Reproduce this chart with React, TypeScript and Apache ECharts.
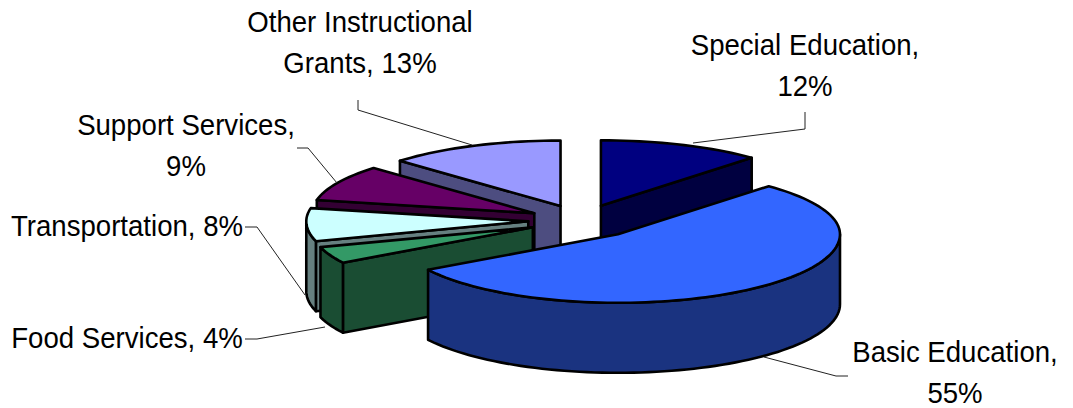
import React, { useEffect, useRef } from "react";
import * as echarts from "echarts";

// Budget shares, clockwise from twelve o'clock
const categories = ["Special Education", "Basic Education", "Food Services", "Transportation", "Support Services", "Other Instructional Grants"];
const shares = [12, 55, 4, 8, 9, 13];
const topColors = ["#000080", "#3366FF", "#339966", "#CCFFFF", "#660066", "#9999FF"];
const wallColors = ["#000040", "#1A3380", "#1A4D33", "#668080", "#330033", "#4D4D80"];
// Back-to-front painting sequence for the tilted pie
const paintOrder = [5, 4, 0, 3, 2, 1];
const explodeBy = [0.24, 0.26, 0.24, 0.24, 0.24, 0.24];

const labelLines = [
  ["Special Education,", "12%"],
  ["Basic Education,", "55%"],
  ["Food Services, 4%"],
  ["Transportation, 8%"],
  ["Support Services,", "9%"],
  ["Other Instructional", "Grants, 13%"],
];

// The near half of the rim is drawn a little deeper than the far half, for perspective
const PIE = { cx: 581.5, cy: 220.5, rx: 222, ryBack: 65.5, ryFront: 68.5, depth: 70, step: 2 };
const FONT = '30px "Liberation Sans", Arial, sans-serif';
const TEXT_SQUEEZE = 0.92;
const LINE_GAP = 41;

const labelPos: [number, number][] = [
  [805, 65.5],
  [955, 372],
  [127, 338],
  [127, 226],
  [186, 145],
  [360, 42.5],
];
const leaders: [number, number][][] = [
  [[805, 112], [805, 129], [693, 143]],
  [[848, 376], [836, 376], [764, 357]],
  [[245, 339], [257, 339], [325, 327]],
  [[245, 227], [257, 227], [305, 295]],
  [[297, 148], [308, 148], [337, 183]],
  [[358, 100], [358, 110], [472, 145]],
];

const total = shares.reduce((a, b) => a + b, 0);
const spans = shares.map((_, i) => {
  const before = shares.slice(0, i).reduce((a, b) => a + b, 0);
  return [(before / total) * 360, ((before + shares[i]) / total) * 360];
});

const rad = (d: number) => (d * Math.PI) / 180;
const depthScale = (c: number) => (c >= 0 ? PIE.ryBack : PIE.ryFront);

function sliceShapes(i: number) {
  const [a0, a1] = spans[i];
  const mid = rad((a0 + a1) / 2);
  const e = explodeBy[i];
  const ax = PIE.cx + e * PIE.rx * Math.sin(mid);
  const ay = PIE.cy - e * depthScale(Math.cos(mid)) * Math.cos(mid);
  const rim = (deg: number): [number, number] => {
    const c = Math.cos(rad(deg));
    return [ax + PIE.rx * Math.sin(rad(deg)), ay - depthScale(c) * c];
  };
  const down = (p: [number, number]): [number, number] => [p[0], p[1] + PIE.depth];
  const arc = (from: number, to: number) => {
    const pts: [number, number][] = [];
    for (let d = from; d < to; d += PIE.step) pts.push(rim(d));
    pts.push(rim(to));
    return pts;
  };
  const apex: [number, number] = [ax, ay];
  const edge = { lineWidth: 2.6, stroke: "#000", lineJoin: "round" as const };
  const poly = (points: [number, number][], fill: string) => ({
    type: "polygon",
    shape: { points },
    style: { fill, ...edge },
  });
  const children: any[] = [];
  // A cut face shows only when it turns towards the viewer
  if (a0 > 180) {
    const t = rim(a0);
    children.push(poly([apex, t, down(t), down(apex)], wallColors[i]));
  }
  if (a1 < 180) {
    const t = rim(a1);
    children.push(poly([apex, t, down(t), down(apex)], wallColors[i]));
  }
  // Only the part of the rim facing the viewer gets an outer wall
  const f0 = Math.max(a0, 90);
  const f1 = Math.min(a1, 270);
  if (f1 > f0) {
    const front = arc(f0, f1);
    children.push(poly([...front, ...front.slice().reverse().map(down)], wallColors[i]));
  }
  children.push(poly([apex, ...arc(a0, a1)], topColors[i]));
  return { type: "group", children };
}

export default function App() {
  const ref = useRef<HTMLDivElement>(null);
  useEffect(() => {
    document.body.style.margin = "0";
    const chart = echarts.init(ref.current!, undefined, { renderer: "svg" });
    chart.setOption({
      animation: false,
      backgroundColor: "#fff",
      series: [
        {
          type: "custom",
          coordinateSystem: "none",
          silent: true,
          data: paintOrder.map((i) => ({ name: categories[i], value: [shares[i], i] })),
          renderItem: (_: unknown, api: any) => sliceShapes(api.value(1)),
        },
      ],
      graphic: [
        ...leaders.map((points) => ({
          type: "polyline",
          silent: true,
          z: 10,
          shape: { points },
          style: { stroke: "#222", lineWidth: 1, fill: "none" },
        })),
        ...labelLines.flatMap((lines, i) =>
          lines.map((text, k) => ({
            type: "text",
            silent: true,
            z: 11,
            x: labelPos[i][0],
            y: labelPos[i][1] + (k - (lines.length - 1) / 2) * LINE_GAP,
            scaleX: TEXT_SQUEEZE,
            style: { text, font: FONT, fill: "#000", align: "center", verticalAlign: "middle" },
          }))
        ),
      ],
    });
    return () => chart.dispose();
  }, []);
  return <div ref={ref} style={{ width: 1073, height: 408 }} />;
}
